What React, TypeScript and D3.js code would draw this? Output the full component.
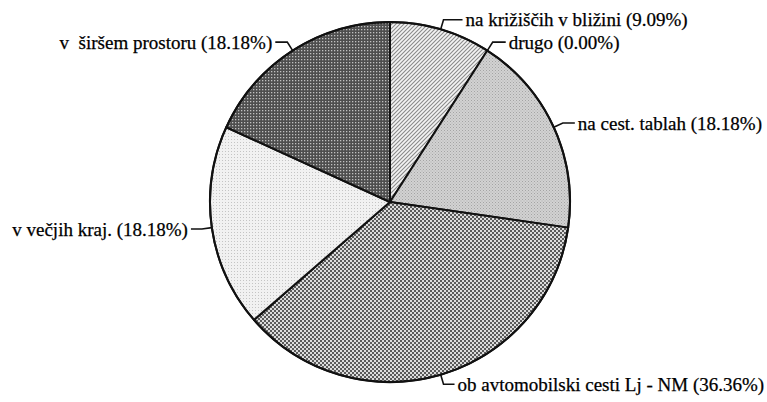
import React from "react";
import * as d3 from "d3";

const categories = [
  "na križiščih v bližini",
  "drugo",
  "na cest. tablah",
  "ob avtomobilski cesti Lj - NM",
  "v večjih kraj.",
  "v  širšem prostoru",
];
const values = [9.09, 0.0, 18.18, 36.36, 18.18, 18.18];
const percentLabels = ["9.09%", "0.00%", "18.18%", "36.36%", "18.18%", "18.18%"];

// layout only (not data)
const patternIds = ["pKriz", "pDrugo", "pTabla", "pAvto", "pVecji", "pSirsi"];
const leaderLen = [19, 13, 12, 11, 11, 12];

const W = 767;
const H = 402;
const cx = 390;
const cy = 202;
const R = 180;
const FONT = "Liberation Serif, Times New Roman, DejaVu Serif, serif";

export default function App() {
  const pie = d3
    .pie<number>()
    .sort(null)
    .value((d) => d)
    .startAngle(0)
    .endAngle(2 * Math.PI);
  const arcs = pie(values);
  const arcGen = d3.arc<d3.PieArcDatum<number>>().innerRadius(0).outerRadius(R);

  const labels = arcs.map((a, i) => {
    const mid = (a.startAngle + a.endAngle) / 2;
    const sx = Math.sin(mid);
    const sy = -Math.cos(mid);
    const p0 = [sx * R, sy * R];
    const p1 = [sx * (R + 10), sy * (R + 10)];
    const dir = sx >= 0 ? 1 : -1;
    const p2 = [p1[0] + dir * leaderLen[i], p1[1]];
    return { p0, p1, p2, dir, i };
  });

  return (
    <svg
      width={W}
      height={H}
      style={{ position: "absolute", left: 0, top: 0, background: "#fff" }}
    >
      <defs>
        <pattern id="pKriz" width="4" height="4" patternUnits="userSpaceOnUse">
          <rect width="4" height="4" fill="#f4f4f4" />
          <path d="M0,4 L4,0 M-1,1 L1,-1 M3,5 L5,3" stroke="#8a8a8a" strokeWidth="1.1" />
        </pattern>
        <pattern id="pDrugo" width="4" height="4" patternUnits="userSpaceOnUse">
          <rect width="4" height="4" fill="#ccc" />
        </pattern>
        <pattern id="pTabla" width="3" height="3" patternUnits="userSpaceOnUse">
          <rect width="3" height="3" fill="#d2d2d2" />
          <rect x="0" y="0" width="1" height="1" fill="#a4a4a4" />
          <rect x="1.5" y="1.5" width="1" height="1" fill="#b0b0b0" />
        </pattern>
        <pattern id="pAvto" width="4" height="4" patternUnits="userSpaceOnUse">
          <rect width="4" height="4" fill="#dcdcdc" />
          <rect x="0" y="0" width="2" height="2" fill="#5a5a5a" />
          <rect x="2" y="2" width="2" height="2" fill="#5a5a5a" />
        </pattern>
        <pattern id="pVecji" width="3" height="3" patternUnits="userSpaceOnUse">
          <rect width="3" height="3" fill="#f1f1f1" />
          <rect x="0" y="0" width="1" height="1" fill="#c4c4c4" />
        </pattern>
        <pattern id="pSirsi" width="3" height="3" patternUnits="userSpaceOnUse">
          <rect width="3" height="3" fill="#4e4e4e" />
          <rect x="1" y="1" width="1.3" height="1.3" fill="#c0c0c0" />
        </pattern>
      </defs>
      <g transform={`translate(${cx},${cy})`}>
        {arcs.map((a, i) =>
          a.value > 0 ? (
            <path
              key={i}
              d={arcGen(a) || ""}
              fill={`url(#${patternIds[i]})`}
              stroke="#111"
              strokeWidth={2}
              strokeLinejoin="round"
            />
          ) : null
        )}
        <circle r={R} fill="none" stroke="#111" strokeWidth={2} />
        {labels.map((l) => (
          <g key={l.i}>
            <polyline
              points={`${l.p0[0]},${l.p0[1]} ${l.p1[0]},${l.p1[1]} ${l.p2[0]},${l.p2[1]}`}
              fill="none"
              stroke="#111"
              strokeWidth={1.6}
            />
            <text
              x={l.p2[0] + l.dir * 3}
              y={l.p1[1]}
              dy="0.35em"
              textAnchor={l.dir > 0 ? "start" : "end"}
              style={{ fontFamily: FONT, fontSize: "19px", whiteSpace: "pre" }}
              fill="#000"
              stroke="#000"
              strokeWidth={0.25}
            >
              {`${categories[l.i]} (${percentLabels[l.i]})`}
            </text>
          </g>
        ))}
      </g>
    </svg>
  );
}
